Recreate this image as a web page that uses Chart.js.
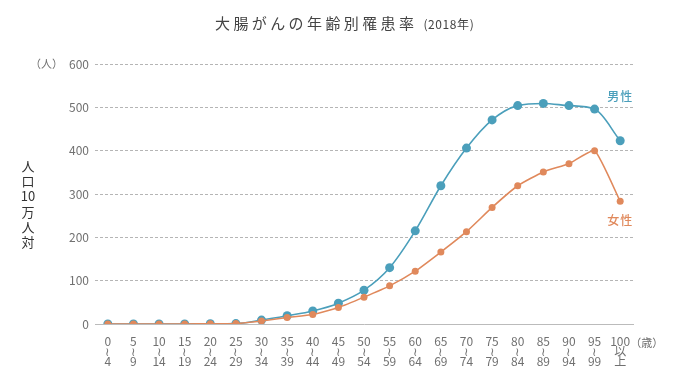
<!DOCTYPE html>
<html><head><meta charset="utf-8">
<script src="https://cdn.jsdelivr.net/npm/chart.js@4/dist/chart.umd.min.js"></script>
<style>html,body{margin:0;padding:0;background:#fff}#wrap{width:700px;height:392px}</style>
</head><body><div id="wrap"><canvas id="c" width="700" height="392"></canvas></div>
<script>
const ageStart = ['0','5','10','15','20','25','30','35','40','45','50','55','60','65','70','75','80','85','90','95','100'];
const ageMid   = ['≀','≀','≀','≀','≀','≀','≀','≀','≀','≀','≀','≀','≀','≀','≀','≀','≀','≀','≀','≀','以'];
const ageEnd   = ['4','9','14','19','24','29','34','39','44','49','54','59','64','69','74','79','84','89','94','99','上'];
const male   = [0,0,0,0,0.5,1,9,19,30,48,78,130,215,319,406,471,504,509,504,496,423];
const female = [0,0,0,0,0.5,1,7,15,22,38,62,88,122,166,213,269,319,351,370,400,283];
const yTicks = [0,100,200,300,400,500,600];
const titleText = '大腸がんの年齢別罹患率';
const titleYear = '(2018年)';
const yAxisTitle = ['人','口','10','万','人','対'];
const FONT = "'Noto Sans CJK JP', 'Noto Sans', sans-serif";
const BLUE = '#4b9fbb', ORANGE = '#e0895c', GRAY = '#707070';

const textPlugin = {
  id: 'texts',
  afterDraw(chart) {
    const ctx = chart.ctx;
    const x = chart.scales.x, y = chart.scales.y;
    ctx.save();
    // title
    ctx.fillStyle = '#444';
    ctx.textBaseline = 'middle';
    ctx.textAlign = 'left';
    const tx = 215;
    ctx.font = '400 15px ' + FONT; ctx.letterSpacing = '3.4px';
    const w1 = ctx.measureText(titleText).width;
    ctx.fillText(titleText, tx, 23);
    ctx.font = '400 12px ' + FONT; ctx.letterSpacing = '0.6px';
    ctx.fillText(titleYear, tx + w1 + 6, 24);
    ctx.letterSpacing = '0px';
    // (人)
    ctx.fillStyle = GRAY;
    ctx.font = '400 11px ' + FONT;
    ctx.textAlign = 'right';
    ctx.fillText('（人）', 63, y.getPixelForValue(600));
    // vertical y title
    ctx.textAlign = 'center';
    ctx.fillStyle = '#333';
    ctx.font = '400 13px ' + FONT;
    let yy = 166;
    yAxisTitle.forEach(s => { ctx.fillText(s, 28, yy); yy += 15.2; });
    // (歳)
    ctx.fillStyle = GRAY;
    ctx.textAlign = 'left';
    ctx.font = '400 11px ' + FONT;
    ctx.fillText('（歳）', x.getPixelForValue(20) + 10, 343);
    // series labels
    ctx.font = '500 12px ' + FONT;
    ctx.textAlign = 'center';
    ctx.letterSpacing = '1px';
    ctx.fillStyle = BLUE;
    ctx.fillText('男性', x.getPixelForValue(20), 96);
    ctx.fillStyle = ORANGE;
    ctx.fillText('女性', x.getPixelForValue(20), 220);
    ctx.restore();
  }
};

new Chart(document.getElementById('c'), {
  type: 'line',
  data: {
    labels: ageStart.map((s, i) => [s, ageMid[i], ageEnd[i]]),
    datasets: [
      { label: '女性', data: female, borderColor: ORANGE, backgroundColor: ORANGE,
        borderWidth: 1.6, pointRadius: 3.5, pointHoverRadius: 3.5, pointBorderWidth: 0,
        tension: 0.15 },
      { label: '男性', data: male, borderColor: BLUE, backgroundColor: BLUE,
        borderWidth: 1.6, pointRadius: 4.5, pointHoverRadius: 4.5, pointBorderWidth: 0,
        cubicInterpolationMode: 'monotone' }
    ]
  },
  options: {
    responsive: false, animation: false,
    layout: { padding: { top: 64, right: 67, bottom: 0, left: 0 } },
    plugins: { legend: { display: false }, title: { display: false }, tooltip: { enabled: false } },
    scales: {
      x: {
        offset: true,
        grid: { display: false, drawTicks: false },
        border: { display: true, color: '#bbb', width: 1 },
        ticks: { color: GRAY, padding: 12, maxRotation: 0, autoSkip: false,
          font: { family: FONT, size: 12, lineHeight: 0.85 } },
        afterFit(s) { s.height = 68; }
      },
      y: {
        min: 0, max: 600,
        afterBuildTicks(s) { s.ticks = yTicks.map(v => ({ value: v })); },
        grid: { color: '#b5b5b5', drawTicks: false, lineWidth: 1 },
        border: { display: false, dash: [3, 2] },
        ticks: { color: GRAY, padding: 6, font: { family: FONT, size: 12 } },
        afterFit(s) { s.width = 95; }
      }
    }
  },
  plugins: [textPlugin]
});
</script></body></html>
